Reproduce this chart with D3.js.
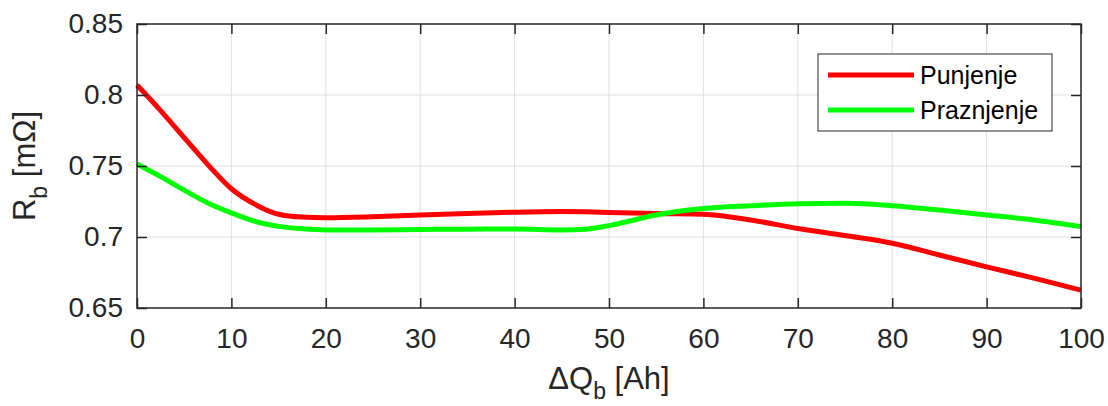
<!DOCTYPE html>
<html><head><meta charset="utf-8">
<script src="https://cdn.jsdelivr.net/npm/d3@7"></script>
<style>body{margin:0;background:#fff}svg{display:block}text{font-family:"Liberation Sans",Arial,sans-serif;fill:#262626}</style>
</head><body><svg id="c" width="1108" height="406"></svg>
<script>
const xValues = [0,2.5,5,7.5,10,12.5,15,17.5,20,25,30,35,40,45,47.5,50,55,60,65,70,75,80,85,90,95,100];
const punjenje = [0.807,0.789,0.770,0.751,0.734,0.723,0.716,0.7140,0.7136,0.7143,0.7155,0.7165,0.7175,0.7180,0.7178,0.7173,0.7165,0.7160,0.712,0.706,0.701,0.6956,0.6873,0.679,0.671,0.6625];
const praznjenje = [0.7514,0.7425,0.733,0.724,0.717,0.711,0.7075,0.7058,0.7050,0.7050,0.7053,0.7055,0.7056,0.7050,0.7055,0.708,0.7155,0.7200,0.722,0.7235,0.7237,0.722,0.719,0.7155,0.712,0.7073];
const xTicks = [0,10,20,30,40,50,60,70,80,90,100];
const yTicks = [0.65,0.7,0.75,0.8,0.85];
const seriesNames = ["Punjenje","Praznjenje"];
const seriesColors = ["#ff0000","#00ff00"];

const svg = d3.select("#c");
const L=137, R=1081, T=24, B=308;
const x = d3.scaleLinear().domain([0,100]).range([L,R]);
const y = d3.scaleLinear().domain([0.65,0.85]).range([B,T]);
const axc = "#262626";

// grid
const g = svg.append("g");
g.selectAll(".gx").data(xTicks.slice(1,-1)).join("line")
  .attr("x1",d=>x(d)).attr("x2",d=>x(d)).attr("y1",T).attr("y2",B)
  .attr("stroke","#dfdfdf").attr("stroke-width",1);
g.selectAll(".gy").data(yTicks.slice(1,-1)).join("line")
  .attr("y1",d=>y(d)).attr("y2",d=>y(d)).attr("x1",L).attr("x2",R)
  .attr("stroke","#dfdfdf").attr("stroke-width",1);

// series
const line = d3.line().x((d,i)=>x(xValues[i])).y(d=>y(d)).curve(d3.curveMonotoneX);
[punjenje,praznjenje].forEach((s,i)=>{
  svg.append("path").attr("d",line(s)).attr("fill","none")
    .attr("stroke",seriesColors[i]).attr("stroke-width",5).attr("stroke-linejoin","round");
});

// axes
const fmt = d=>String(+d.toFixed(2));
const tl = 10;
const ax = svg.append("g").attr("transform",`translate(0,${B})`)
  .call(d3.axisBottom(x).tickValues(xTicks).tickSize(-tl).tickPadding(20).tickFormat(d=>d));
const axT = svg.append("g").attr("transform",`translate(0,${T})`)
  .call(d3.axisTop(x).tickValues(xTicks).tickSize(-tl).tickFormat(""));
const ay = svg.append("g").attr("transform",`translate(${L},0)`)
  .call(d3.axisLeft(y).tickValues(yTicks).tickSize(-tl).tickPadding(14).tickFormat(fmt));
const ayR = svg.append("g").attr("transform",`translate(${R},0)`)
  .call(d3.axisRight(y).tickValues(yTicks).tickSize(-tl).tickFormat(""));
[ax,axT,ay,ayR].forEach(a=>{
  a.select(".domain").attr("stroke",axc).attr("stroke-width",1.5);
  a.selectAll(".tick line").attr("stroke",axc).attr("stroke-width",1.5);
  a.selectAll(".tick text").attr("fill",axc).style("font-size","28px").style("font-family",'"Liberation Sans",Arial,sans-serif');
});
svg.selectAll(".domain").attr("d",null);
svg.append("rect").attr("x",L).attr("y",T).attr("width",R-L).attr("height",B-T)
  .attr("fill","none").attr("stroke",axc).attr("stroke-width",1.5);

// axis labels
const xl = svg.append("text").attr("x",(L+R)/2).attr("y",389).attr("text-anchor","middle").style("font-size","31px");
xl.append("tspan").text("ΔQ");
xl.append("tspan").text("b").attr("dy",10).style("font-size","23px");
xl.append("tspan").text(" [Ah]").attr("dy",-10);

const yl = svg.append("text").attr("transform",`translate(35,${(T+B)/2}) rotate(-90)`).attr("text-anchor","middle").style("font-size","31px");
yl.append("tspan").text("R");
yl.append("tspan").text("b").attr("dy",12).style("font-size","23px");
yl.append("tspan").text(" [mΩ]").attr("dy",-12);

// legend
const lg = svg.append("g");
lg.append("rect").attr("x",818).attr("y",54).attr("width",234).attr("height",77)
  .attr("fill","#fff").attr("stroke",axc).attr("stroke-width",1);
seriesNames.forEach((n,i)=>{
  const yy = 75 + i*35;
  lg.append("line").attr("x1",828).attr("x2",914).attr("y1",yy).attr("y2",yy)
    .attr("stroke",seriesColors[i]).attr("stroke-width",5);
  lg.append("text").attr("x",920).attr("y",yy).attr("dy","0.35em").style("font-size","25px").style("fill","#000").text(n);
});
</script></body></html>
